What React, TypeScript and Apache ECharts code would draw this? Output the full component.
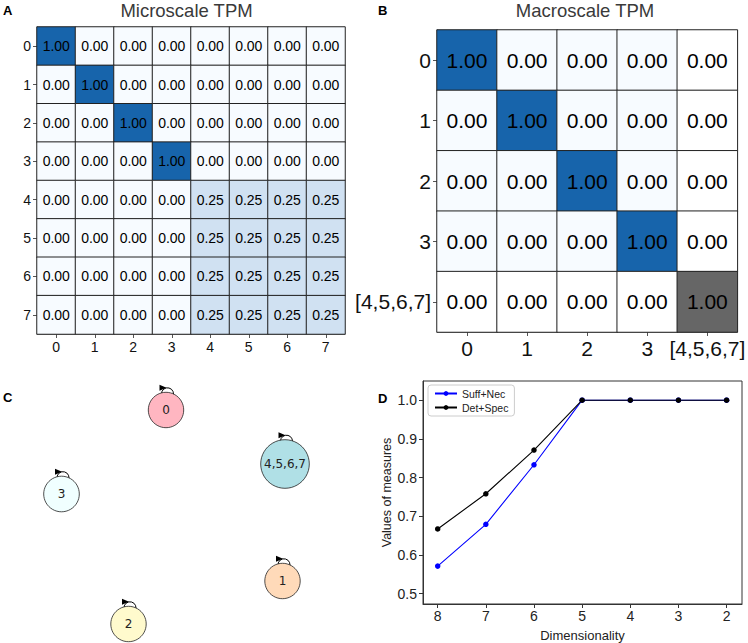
import React, { useEffect, useRef } from "react";
import * as echarts from "echarts";

const microStates = ["0", "1", "2", "3", "4", "5", "6", "7"];
const microTPM = [
  [1, 0, 0, 0, 0, 0, 0, 0],
  [0, 1, 0, 0, 0, 0, 0, 0],
  [0, 0, 1, 0, 0, 0, 0, 0],
  [0, 0, 0, 1, 0, 0, 0, 0],
  [0, 0, 0, 0, 0.25, 0.25, 0.25, 0.25],
  [0, 0, 0, 0, 0.25, 0.25, 0.25, 0.25],
  [0, 0, 0, 0, 0.25, 0.25, 0.25, 0.25],
  [0, 0, 0, 0, 0.25, 0.25, 0.25, 0.25],
];

const macroStates = ["0", "1", "2", "3", "[4,5,6,7]"];
const macroTPM = [
  [1, 0, 0, 0, 0],
  [0, 1, 0, 0, 0],
  [0, 0, 1, 0, 0],
  [0, 0, 0, 1, 0],
  [0, 0, 0, 0, 1],
];
const macroGroupIndex = 4;

// Network (panel C): node layout positions in the panel's own units
const nodeLabels = ["0", "4,5,6,7", "3", "1", "2"];
const nodeX = [166, 285, 61.5, 282.5, 128.5];
const nodeY = [30, 84, 114, 201, 244];
const nodeRadius = [17.7, 24.3, 17.8, 17.7, 17.7];
const nodeColors = ["#ffb6c1", "#b0e0e6", "#f0ffff", "#ffdab9", "#fffacd"];

// Panel D
const dimensionality = [8, 7, 6, 5, 4, 3, 2];
const suffNec = [0.571, 0.679, 0.833, 1.0, 1.0, 1.0, 1.0];
const detSpec = [0.667, 0.758, 0.871, 1.0, 1.0, 1.0, 1.0];
const yTicks = [0.5, 0.6, 0.7, 0.8, 0.9, 1.0];

const FONT = "Liberation Sans, Arial, sans-serif";

export default function App() {
  const ref = useRef<HTMLDivElement>(null);
  useEffect(() => {
    if (!ref.current) return;
    const chart = echarts.init(ref.current, undefined, { renderer: "svg" });

    const microData: any[] = [];
    microTPM.forEach((row, r) =>
      row.forEach((v, c) => microData.push([c, r, v]))
    );
    const macroBlue: any[] = [];
    const macroGrey: any[] = [];
    macroTPM.forEach((row, r) =>
      row.forEach((v, c) => {
        if (r === macroGroupIndex || c === macroGroupIndex) macroGrey.push([c, r, v]);
        else macroBlue.push([c, r, v]);
      })
    );

    const heatLabel = (size: number) => ({
      show: true,
      fontSize: size,
      fontFamily: FONT,
      color: "#000",
      formatter: (p: any) => Number(p.value[2]).toFixed(2),
    });
    const cellStyle = { borderColor: "#222", borderWidth: 1 };

    const catAxis = (gridIndex: number, data: string[], fontSize: number, isY: boolean) => ({
      type: "category",
      gridIndex,
      data,
      inverse: isY,
      axisLine: { show: true, lineStyle: { color: "#999", width: 1 } },
      axisTick: { show: true, alignWithLabel: true, interval: 0, length: 4, lineStyle: { color: "#555" } },
      axisLabel: { fontSize, color: "#111", fontFamily: FONT, margin: 6, interval: 0 },
      splitLine: { show: false },
      splitArea: { show: false },
    });

    const option: any = {
      animation: false,
      textStyle: { fontFamily: FONT },
      grid: [
        { left: 37, top: 27, width: 308, height: 307 },
        { left: 437, top: 30, width: 303, height: 302 },
        { left: 0, top: 380, width: 380, height: 263 },
        { left: 423, top: 381, width: 319, height: 229, show: true, borderColor: "#333", borderWidth: 1, backgroundColor: "transparent" },
      ],
      xAxis: [
        catAxis(0, microStates, 14, false),
        catAxis(1, macroStates, 21, false),
        { type: "value", gridIndex: 2, min: 0, max: 380, show: false },
        {
          type: "value",
          gridIndex: 3,
          inverse: true,
          min: 1.68,
          max: 8.305,
          name: "Dimensionality",
          nameLocation: "middle",
          nameGap: 25,
          nameTextStyle: { fontSize: 13, color: "#222", fontFamily: FONT },
          axisLine: { show: true, lineStyle: { color: "#333" } },
          axisTick: { show: true, length: 4, customValues: dimensionality, lineStyle: { color: "#333" } },
          axisLabel: { fontSize: 14, color: "#222", margin: 5, customValues: dimensionality, formatter: (v: number) => String(v) },
          splitLine: { show: false },
        },
      ],
      yAxis: [
        catAxis(0, microStates, 14, true),
        catAxis(1, macroStates, 21, true),
        { type: "value", gridIndex: 2, min: 0, max: 263, inverse: true, show: false },
        {
          type: "value",
          gridIndex: 3,
          min: 0.473,
          max: 1.0496,
          name: "Values of measures",
          nameLocation: "middle",
          nameGap: 24,
          nameTextStyle: { fontSize: 12.5, color: "#222", fontFamily: FONT },
          axisLine: { show: true, lineStyle: { color: "#333" } },
          axisTick: { show: true, length: 4, customValues: yTicks, lineStyle: { color: "#333" } },
          axisLabel: { fontSize: 14, color: "#222", margin: 6, customValues: yTicks, formatter: (v: number) => v.toFixed(1) },
          splitLine: { show: false },
        },
      ],
      visualMap: [
        {
          type: "continuous",
          show: false,
          min: 0,
          max: 1,
          dimension: 2,
          seriesIndex: [0, 1],
          inRange: { color: ["#f7fbff", "#d0e1f2", "#94c4df", "#4a98c9", "#1764ab"] },
        },
        {
          type: "continuous",
          show: false,
          min: 0,
          max: 1,
          dimension: 2,
          seriesIndex: [2],
          inRange: { color: ["#ffffff", "#666666"] },
        },
      ],
      legend: {
        show: true,
        data: ["Suff+Nec", "Det+Spec"],
        orient: "vertical",
        left: 428,
        top: 385,
        padding: [3, 6, 3, 6],
        itemGap: 3,
        itemWidth: 22,
        itemHeight: 6,
        borderColor: "#ccc",
        borderWidth: 1,
        borderRadius: 3,
        backgroundColor: "#fff",
        textStyle: { fontSize: 10.5, color: "#222", fontFamily: FONT },
      },
      series: [
        {
          type: "heatmap",
          xAxisIndex: 0,
          yAxisIndex: 0,
          data: microData,
          label: heatLabel(14),
          itemStyle: cellStyle,
          emphasis: { disabled: true },
        },
        {
          type: "heatmap",
          xAxisIndex: 1,
          yAxisIndex: 1,
          data: macroBlue,
          label: heatLabel(21),
          itemStyle: cellStyle,
          emphasis: { disabled: true },
        },
        {
          type: "heatmap",
          xAxisIndex: 1,
          yAxisIndex: 1,
          data: macroGrey,
          label: heatLabel(21),
          itemStyle: cellStyle,
          emphasis: { disabled: true },
        },
        {
          type: "custom",
          xAxisIndex: 2,
          yAxisIndex: 2,
          clip: false,
          data: nodeX.map((x, i) => [x, nodeY[i], nodeRadius[i]]),
          renderItem: (params: any, api: any) => {
            const i = params.dataIndex;
            const p = api.coord([api.value(0), api.value(1)]);
            const r = api.value(2);
            const top = p[1] - r;
            return {
              type: "group",
              children: [
                {
                  type: "arc",
                  shape: { cx: p[0] + 1.5, cy: top + 1.5, r: 6, startAngle: Math.PI, endAngle: Math.PI * 2 + 0.5, clockwise: true },
                  style: { stroke: "#000", fill: null, lineWidth: 1 },
                },
                {
                  type: "circle",
                  shape: { cx: p[0], cy: p[1], r },
                  style: { fill: nodeColors[i], stroke: "#222", lineWidth: 0.8 },
                },
                {
                  type: "polygon",
                  shape: { points: [[p[0] - 6.5, top - 7.5], [p[0] - 6.5, top - 1.5], [p[0] + 0.5, top - 4.5]] },
                  style: { fill: "#000" },
                },
                {
                  type: "text",
                  x: p[0],
                  y: p[1],
                  style: {
                    text: nodeLabels[i],
                    fontSize: 12,
                    fontFamily: "DejaVu Sans",
                    fill: "#222",
                    align: "center",
                    verticalAlign: "middle",
                  },
                },
              ],
            };
          },
        },
        {
          type: "line",
          name: "Suff+Nec",
          xAxisIndex: 3,
          yAxisIndex: 3,
          data: dimensionality.map((d, i) => [d, suffNec[i]]),
          color: "#0000ff",
          symbol: "circle",
          symbolSize: 5.5,
          lineStyle: { width: 1.1, color: "#0000ff" },
          itemStyle: { color: "#0000ff" },
        },
        {
          type: "line",
          name: "Det+Spec",
          xAxisIndex: 3,
          yAxisIndex: 3,
          data: dimensionality.map((d, i) => [d, detSpec[i]]),
          color: "#000000",
          symbol: "circle",
          symbolSize: 5.5,
          lineStyle: { width: 1.1, color: "#000000" },
          itemStyle: { color: "#000000" },
        },
      ],
      graphic: [
        { type: "text", x: 186.5, y: 10, style: { text: "Microscale TPM", fontSize: 18.5, fill: "#3a3a3a", fontFamily: FONT, align: "center", verticalAlign: "middle" } },
        { type: "text", x: 585, y: 10, style: { text: "Macroscale TPM", fontSize: 18.5, fill: "#3a3a3a", fontFamily: FONT, align: "center", verticalAlign: "middle" } },
        { type: "text", x: 3, y: 10, style: { text: "A", fontSize: 13, fontWeight: "bold", fill: "#000", fontFamily: FONT, verticalAlign: "middle" } },
        { type: "text", x: 378, y: 10, style: { text: "B", fontSize: 13, fontWeight: "bold", fill: "#000", fontFamily: FONT, verticalAlign: "middle" } },
        { type: "text", x: 3, y: 397, style: { text: "C", fontSize: 13, fontWeight: "bold", fill: "#000", fontFamily: FONT, verticalAlign: "middle" } },
        { type: "text", x: 378, y: 398, style: { text: "D", fontSize: 13, fontWeight: "bold", fill: "#000", fontFamily: FONT, verticalAlign: "middle" } },
      ],
    };

    chart.setOption(option);
    return () => chart.dispose();
  }, []);

  return (
    <div
      ref={ref}
      style={{ position: "fixed", left: 0, top: 0, width: 748, height: 643, background: "#fff" }}
    />
  );
}
